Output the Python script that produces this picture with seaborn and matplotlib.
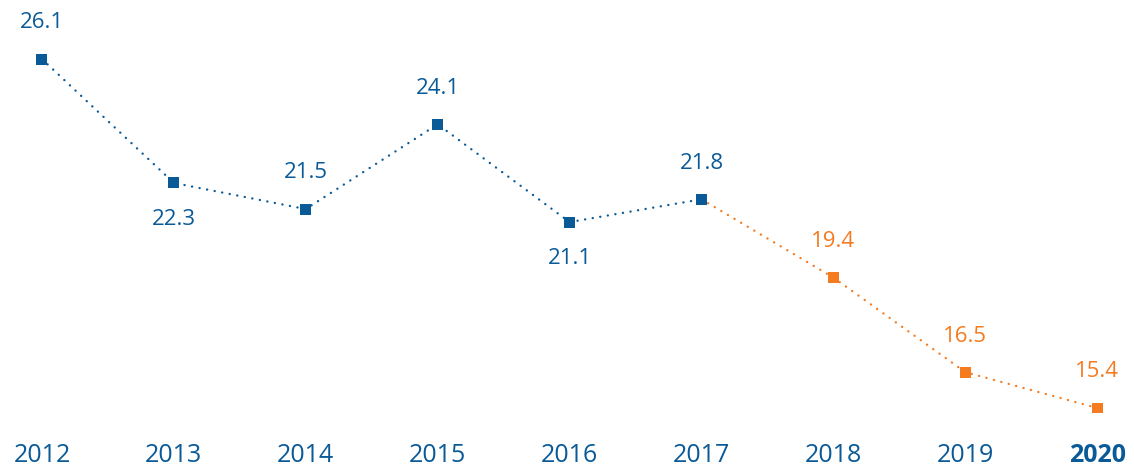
import matplotlib
matplotlib.use("Agg")
import matplotlib.pyplot as plt
import seaborn as sns
import pandas as pd

sns.set_style("white")
plt.rcParams["font.family"] = ["Open Sans", "DejaVu Sans"]

years = [2012, 2013, 2014, 2015, 2016, 2017, 2018, 2019, 2020]
values = [26.1, 22.3, 21.5, 24.1, 21.1, 21.8, 19.4, 16.5, 15.4]
# label placement: +1 above the marker, -1 below it
label_side = [1, -1, 1, 1, -1, 1, 1, 1, 1]
last_actual = 2017

BLUE = "#0a5a97"
ORANGE = "#f47b20"

df = pd.DataFrame({"year": years, "value": values})
df["pos"] = range(len(df))
actual = df[df["year"] <= last_actual]
forecast = df[df["year"] >= last_actual]

fig = plt.figure(figsize=(11.34, 4.71), dpi=100)
ax = fig.add_axes([0, 31 / 471, 1, (471 - 31) / 471])

sns.lineplot(data=actual, x="pos", y="value", color=BLUE, lw=1.7, ax=ax)
sns.lineplot(data=forecast, x="pos", y="value", color=ORANGE, lw=1.7, ax=ax)
for line in ax.lines:
    line.set_linestyle((0, (0.05, 3.2)))
    line.set_dash_capstyle("round")

colors = [BLUE if y <= last_actual else ORANGE for y in years]
sns.scatterplot(data=df, x="pos", y="value", hue="year",
                palette=dict(zip(years, colors)), marker="s", s=62,
                edgecolor="none", legend=False, ax=ax, zorder=3)

for p, v, side, c in zip(df["pos"], values, label_side, colors):
    ax.annotate(f"{v:.1f}", (p, v), xytext=(0, 26 * side),
                textcoords="offset points", ha="center", va="center",
                fontsize=16, color=c)

ax.set_xlim(-0.318, 8.279)
ax.set_ylim(14.419, 27.91)
ax.set_xticks(df["pos"])
ticklabels = ax.set_xticklabels([str(y) for y in years], fontsize=18, color=BLUE)
ticklabels[-1].set_fontweight("bold")
ax.tick_params(axis="x", length=0, pad=2)
ax.set_yticks([])
ax.set_xlabel("")
ax.set_ylabel("")
for s in ax.spines.values():
    s.set_visible(False)

fig.savefig("out.png", dpi=100)
